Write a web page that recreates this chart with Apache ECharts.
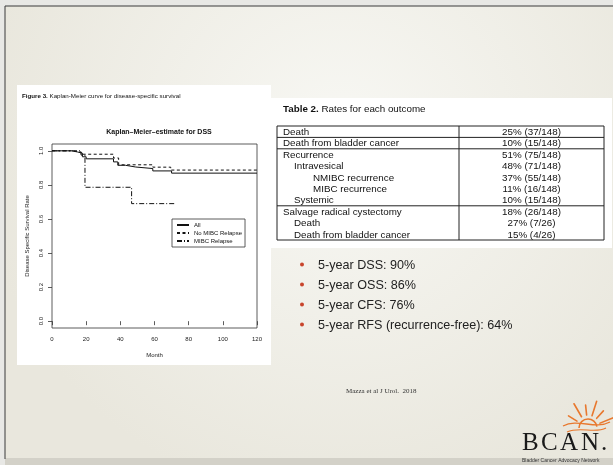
<!DOCTYPE html>
<html>
<head>
<meta charset="utf-8">
<script src="https://cdn.jsdelivr.net/npm/echarts@6/dist/echarts.min.js"></script>
<style>
html,body{margin:0;padding:0;background:#e9e9e6;}
#c{width:613px;height:465px;}
</style>
</head>
<body>
<div id="c"></div>
<script>
// ---- data ----
const figureCaptionBold = 'Figure 3.';
const figureCaption = ' Kaplan-Meier curve for disease-specific survival';
const chartTitle = 'Kaplan\u2013Meier\u2013estimate for DSS';
const xAxisName = 'Month';
const yAxisName = 'Disease Specific Survival Rate';
const xTicks = [0, 20, 40, 60, 80, 100, 120];
const yTicks = [0, 0.2, 0.4, 0.6, 0.8, 1.0];
const seriesNames = ['All', 'No MIBC Relapse', 'MIBC Relapse'];
// Kaplan-Meier steps [month, survival]
const kmAll = [[0,1],[11.5,0.993],[15,0.986],[17.8,0.965],[20,0.953],[36,0.935],[38.5,0.915],[43,0.905],[49,0.896],[59,0.882],[70,0.869],[120,0.869]];
const kmNoMibc = [[0,1],[12,0.993],[17,0.98],[36,0.958],[39,0.918],[59,0.904],[69.5,0.887],[120,0.887]];
const kmMibc = [[0,1],[17,0.975],[19.3,0.786],[46.6,0.69],[72.5,0.69]];

const tableTitleBold = 'Table 2.';
const tableTitle = ' Rates for each outcome';
const tableLabels = ['Death','Death from bladder cancer','Recurrence','Intravesical','NMIBC recurrence','MIBC recurrence','Systemic','Salvage radical cystectomy','Death','Death from bladder cancer'];
const tableValues = ['25% (37/148)','10% (15/148)','51% (75/148)','48% (71/148)','37% (55/148)','11% (16/148)','10% (15/148)','18% (26/148)','27% (7/26)','15% (4/26)'];
const tableLevels = [0,0,0,1,2,2,1,0,1,1];
const tableGroupEnds = [0,1,6];

const bullets = ['5-year DSS: 90%','5-year OSS: 86%','5-year CFS: 76%','5-year RFS (recurrence-free): 64%'];
const citation = 'Mazza et al J Urol.  2018';
const logoLetters = ['B','C','A','N','.'];
const logoSub = 'Bladder Cancer Advocacy Network';

// ---- build ----
const chart = echarts.init(document.getElementById('c'), null, {renderer:'canvas'});
const sans = '"Liberation Sans", Arial, sans-serif';
const serif = '"Liberation Serif", "Times New Roman", serif';

const g = [];
// slide background
g.push({type:'rect', z:-100, shape:{x:0,y:0,width:613,height:465}, style:{fill:'#e8e8e5'}});
g.push({type:'rect', z:-99, shape:{x:5,y:6,width:608,height:453},
  style:{fill:new echarts.graphic.RadialGradient(0.55,0.3,0.8,[{offset:0,color:'#f8f8f4'},{offset:1,color:'#e9e7dd'}])}});
g.push({type:'line', z:-97, shape:{x1:5,y1:6,x2:613,y2:6}, style:{stroke:'#3a3a3a', lineWidth:1}});
g.push({type:'line', z:-97, shape:{x1:5,y1:6,x2:5,y2:459}, style:{stroke:'#3a3a3a', lineWidth:1}});
g.push({type:'rect', z:-98, shape:{x:5,y:458,width:608,height:7}, style:{fill:'#d3d1c8'}});
// white panels
g.push({type:'rect', z:-90, shape:{x:17,y:85,width:254,height:280}, style:{fill:'#ffffff'}});
g.push({type:'rect', z:-90, shape:{x:270,y:98,width:342,height:150}, style:{fill:'#ffffff'}});

// figure caption
g.push({type:'text', z:5, style:{x:22,y:96, text:'{b|'+figureCaptionBold+'}'+figureCaption, fill:'#111', font:'6.2px '+sans, verticalAlign:'middle',
  rich:{b:{fontWeight:'bold', fontSize:6.2, fontFamily:sans, fill:'#111'}}}});

// table
const tX0 = 277, tX1 = 604, tY0 = 126, rowH = 11.4, tDiv = 459;
const tY1 = tY0 + rowH * tableLabels.length;
const indent = [6, 17, 36];
g.push({type:'text', z:5, style:{x:283,y:109, text:'{b|'+tableTitleBold+'}'+tableTitle, fill:'#111', font:'9.8px '+sans, verticalAlign:'middle',
  rich:{b:{fontWeight:'bold', fontSize:9.8, fontFamily:sans, fill:'#111'}}}});
g.push({type:'rect', z:5, shape:{x:tX0,y:tY0,width:tX1-tX0,height:tY1-tY0}, style:{fill:null, stroke:'#222', lineWidth:1}});
g.push({type:'line', z:5, shape:{x1:tDiv,y1:tY0,x2:tDiv,y2:tY1}, style:{stroke:'#222', lineWidth:1}});
tableGroupEnds.forEach(function(i){
  const y = tY0 + rowH*(i+1);
  g.push({type:'line', z:5, shape:{x1:tX0,y1:y,x2:tX1,y2:y}, style:{stroke:'#222', lineWidth:1}});
});
tableLabels.forEach(function(lab, i){
  const yc = tY0 + rowH*(i+0.5) + 0.5;
  g.push({type:'text', z:6, style:{x:tX0+indent[tableLevels[i]], y:yc, text:lab, fill:'#111', font:'9.8px '+sans, verticalAlign:'middle'}});
  g.push({type:'text', z:6, style:{x:(tDiv+tX1)/2, y:yc, text:tableValues[i], fill:'#111', font:'9.8px '+sans, verticalAlign:'middle', align:'center'}});
});

// bullets
bullets.forEach(function(b, i){
  const y = 266 + i*20;
  g.push({type:'circle', z:6, shape:{cx:302, cy:y-1.5, r:2}, style:{fill:'#c8452c'}});
  g.push({type:'text', z:6, style:{x:318, y:y, text:b, fill:'#222', font:'12.6px '+sans, verticalAlign:'middle'}});
});

// citation
g.push({type:'text', z:6, style:{x:346, y:391, text:citation, fill:'#333', font:'7px '+serif, verticalAlign:'middle'}});

// logo
const orange = '#e8782e';
const sc = [588, 428];
const rayAngles = [22, 48, 72, 96, 120, 148];
rayAngles.forEach(function(a, i){
  const r1 = 13, r2 = (i%2===0) ? 28 : 23;
  const rad = a*Math.PI/180;
  g.push({type:'line', z:6, shape:{x1:sc[0]+r1*Math.cos(rad), y1:sc[1]-r1*Math.sin(rad), x2:sc[0]+r2*Math.cos(rad), y2:sc[1]-r2*Math.sin(rad)},
    style:{stroke:orange, lineWidth:1.6, lineCap:'round'}});
});
g.push({type:'arc', z:6, shape:{cx:sc[0], cy:sc[1], r:9, startAngle:Math.PI*1.0, endAngle:Math.PI*1.95, clockwise:true}, style:{stroke:orange, lineWidth:1.6, fill:null}});
g.push({type:'bezierCurve', z:6, shape:{x1:563,y1:426,x2:610,y2:422,cpx1:578,cpy1:418,cpx2:595,cpy2:430}, style:{stroke:orange, lineWidth:1.4, fill:null}});
g.push({type:'bezierCurve', z:6, shape:{x1:567,y1:432,x2:606,y2:428,cpx1:580,cpy1:426,cpx2:595,cpy2:434}, style:{stroke:orange, lineWidth:1.2, fill:null}});
const letterX = [522, 541, 560, 581, 601];
logoLetters.forEach(function(L, i){
  g.push({type:'text', z:7, style:{x:letterX[i], y:443.5, text:L, fill:'#1a1a1a', font:'25px '+serif, verticalAlign:'middle'}});
});
g.push({type:'text', z:7, style:{x:522, y:460.5, text:logoSub, fill:'#333', font:'5px '+sans, verticalAlign:'middle'}});

const axisTxt = {color:'#222', fontSize:6, fontFamily:sans};
const option = {
  animation:false,
  backgroundColor:'transparent',
  title:{text:chartTitle, left:154, top:124, textAlign:'center', textStyle:{fontSize:7, fontWeight:'bold', color:'#111', fontFamily:sans}},
  legend:{
    data:seriesNames, orient:'vertical', left:172, top:219,
    backgroundColor:'#fff', borderColor:'#333', borderWidth:0.8, borderRadius:0,
    padding:[3,3,3,4], itemGap:2, itemWidth:12, itemHeight:6,
    itemStyle:{opacity:0},
    textStyle:{fontSize:6, color:'#111', fontFamily:sans}
  },
  grid:{left:52, right:356, top:144, bottom:137, show:true, borderColor:'#333', borderWidth:0.8, backgroundColor:'transparent'},
  xAxis:{type:'value', min:0, max:120, interval:20,
    name:xAxisName, nameLocation:'middle', nameGap:24, nameTextStyle:axisTxt,
    axisLine:{show:false}, splitLine:{show:false},
    axisTick:{show:true, length:4, lineStyle:{color:'#333', width:0.8}},
    axisLabel:Object.assign({margin:8, showMinLabel:true, showMaxLabel:true}, axisTxt)},
  yAxis:{type:'value', min:-0.04, max:1.04,
    name:yAxisName, nameLocation:'middle', nameGap:22, nameRotate:90, nameTextStyle:axisTxt,
    axisLine:{show:false}, splitLine:{show:false},
    axisTick:{show:true, length:4, customValues:yTicks, lineStyle:{color:'#333', width:0.8}},
    axisLabel:Object.assign({rotate:90, margin:8, customValues:yTicks, formatter:function(v){return v.toFixed(1);}}, axisTxt)},
  series:[
    {name:seriesNames[0], type:'line', step:'end', data:kmAll, showSymbol:false, symbol:'none',
      lineStyle:{color:'#111', width:1, type:'solid'}, itemStyle:{color:'#111'}, z:3},
    {name:seriesNames[1], type:'line', step:'end', data:kmNoMibc, showSymbol:false, symbol:'none',
      lineStyle:{color:'#111', width:1, type:[3,2.5]}, itemStyle:{color:'#111'}, z:4},
    {name:seriesNames[2], type:'line', step:'end', data:kmMibc, showSymbol:false, symbol:'none',
      lineStyle:{color:'#111', width:1, type:[5,2,1,2]}, itemStyle:{color:'#111'}, z:4}
  ],
  graphic:{elements:g}
};
chart.setOption(option);
</script>
</body>
</html>
